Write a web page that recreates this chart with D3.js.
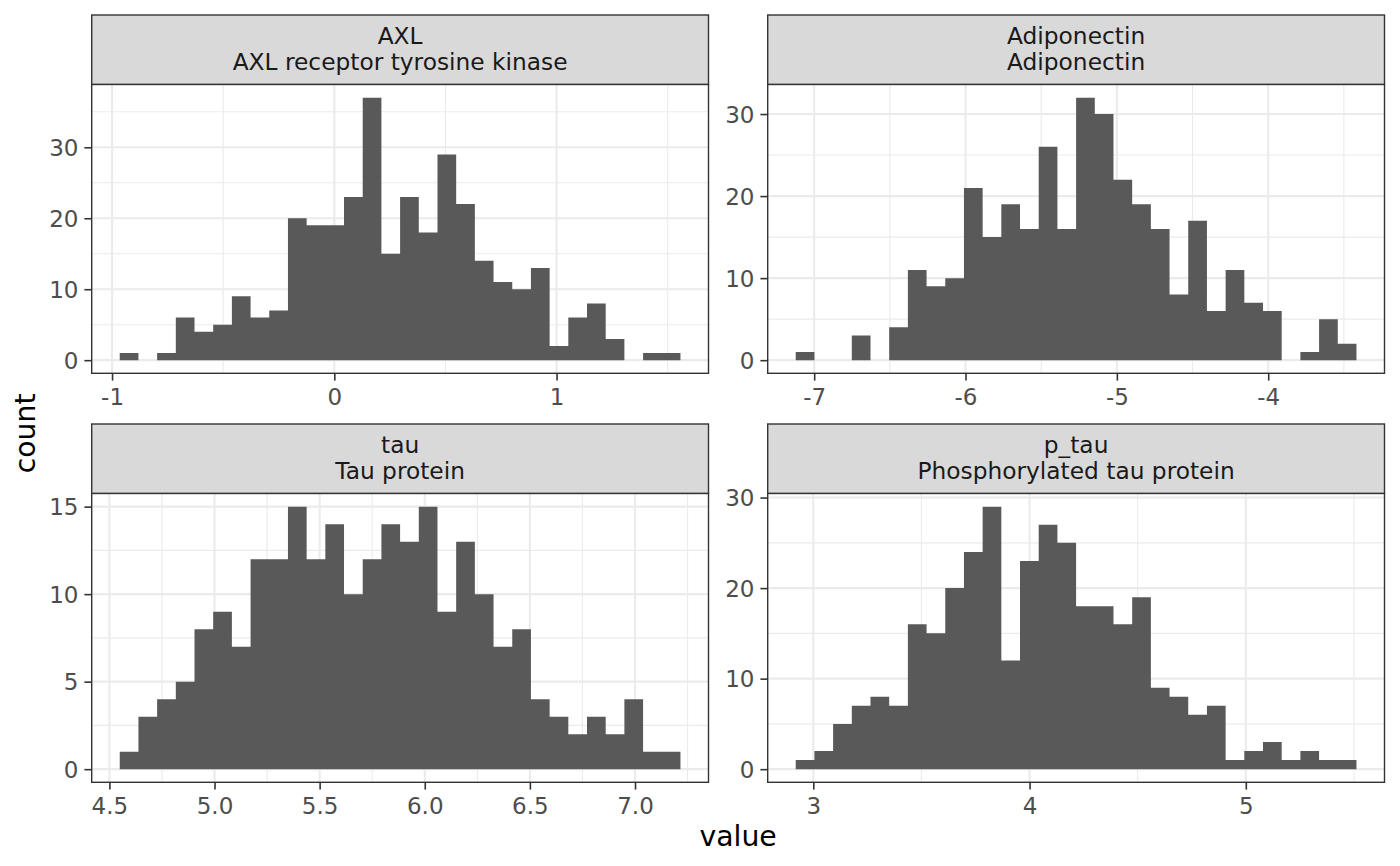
<!DOCTYPE html>
<html>
<head>
<meta charset="utf-8">
<script src="https://cdn.jsdelivr.net/npm/d3@7"></script>
<style>
  body { margin: 0; background: #fff; }
  svg text { font-family: "DejaVu Sans", sans-serif; }
</style>
</head>
<body>
<div id="chart"></div>
<script>
// facet names and strip subtitles
const panelIds = ["AXL", "Adiponectin", "tau", "p_tau"];
const panelLabels = ["AXL receptor tyrosine kinase", "Adiponectin", "Tau protein", "Phosphorylated tau protein"];

// histogram counts, 30 bins each
const axlCounts = [1, 0, 1, 6, 4, 5, 9, 6, 7, 20, 19, 19, 23, 37, 15, 23, 18, 29, 22, 14, 11, 10, 13, 2, 6, 8, 3, 0, 1, 1];
const adiponectinCounts = [1, 0, 0, 3, 0, 4, 11, 9, 10, 21, 15, 19, 16, 26, 16, 32, 30, 22, 19, 16, 8, 17, 6, 11, 7, 6, 0, 1, 5, 2];
const tauCounts = [1, 3, 4, 5, 8, 9, 7, 12, 12, 15, 12, 14, 10, 12, 14, 13, 15, 9, 13, 10, 7, 8, 4, 3, 2, 3, 2, 4, 1, 1];
const pTauCounts = [1, 2, 5, 7, 8, 7, 16, 15, 20, 24, 29, 12, 23, 27, 25, 18, 18, 16, 19, 9, 8, 6, 7, 1, 2, 3, 1, 2, 1, 1];

// left edge of first bin and bin width per panel
const binStart = [-0.9654, -7.1218, 4.5492, 2.9188];
const binWidth = [0.0841, 0.1235, 0.0889, 0.08643];

// axis breaks
const xTicks = [[-1, 0, 1], [-7, -6, -5, -4], [4.5, 5, 5.5, 6, 6.5, 7], [3, 4, 5]];
const xTickLabels = [["-1", "0", "1"], ["-7", "-6", "-5", "-4"], ["4.5", "5.0", "5.5", "6.0", "6.5", "7.0"], ["3", "4", "5"]];
const yTicks = [[0, 10, 20, 30], [0, 10, 20, 30], [0, 5, 10, 15], [0, 10, 20, 30]];

const allCounts = [axlCounts, adiponectinCounts, tauCounts, pTauCounts];

const width = 1400, height = 866;
const colX = [91.7, 767.7];
const panelW = 616.8;
const stripTop = [15, 424];
const stripH = 69.5;
const plotH = 288.8;
const tickLen = 7.3;

const svg = d3.select("#chart").append("svg")
    .attr("width", width)
    .attr("height", height)
    .attr("viewBox", `0 0 ${width} ${height}`);

svg.append("rect").attr("width", width).attr("height", height).attr("fill", "#fff");

function minorBreaks(ticks, domain) {
    const step = ticks[1] - ticks[0];
    const out = [];
    for (let v = ticks[0] - step / 2; v <= ticks[ticks.length - 1] + step; v += step) {
        if (v >= domain[0] && v <= domain[1]) out.push(v);
    }
    return out;
}

allCounts.forEach((counts, i) => {
    const col = i % 2, row = Math.floor(i / 2);
    const left = colX[col];
    const top = stripTop[row] + stripH;

    const lo = binStart[i], hi = binStart[i] + counts.length * binWidth[i];
    const pad = (hi - lo) * 0.05;
    const x = d3.scaleLinear().domain([lo - pad, hi + pad]).range([0, panelW]);
    const maxC = d3.max(counts);
    const y = d3.scaleLinear().domain([-0.05 * maxC, 1.05 * maxC]).range([plotH, 0]);

    // strip
    const strip = svg.append("g").attr("transform", `translate(${left},${stripTop[row]})`);
    strip.append("rect")
        .attr("width", panelW).attr("height", stripH)
        .attr("fill", "#D9D9D9").attr("stroke", "#333333").attr("stroke-width", 1.4);
    strip.append("text")
        .attr("x", panelW / 2).attr("y", 29.3)
        .attr("text-anchor", "middle").attr("font-size", 23.3).attr("fill", "#1A1A1A")
        .text(panelIds[i]);
    strip.append("text")
        .attr("x", panelW / 2).attr("y", 55)
        .attr("text-anchor", "middle").attr("font-size", 23.3).attr("fill", "#1A1A1A")
        .text(panelLabels[i]);

    const g = svg.append("g").attr("transform", `translate(${left},${top})`);
    g.append("rect").attr("width", panelW).attr("height", plotH).attr("fill", "#fff");

    // minor grid
    const xMinor = minorBreaks(xTicks[i], x.domain());
    const yMinor = minorBreaks(yTicks[i], y.domain());
    g.selectAll(".xminor").data(xMinor).join("line")
        .attr("x1", d => x(d)).attr("x2", d => x(d)).attr("y1", 0).attr("y2", plotH)
        .attr("stroke", "#EBEBEB").attr("stroke-width", 1.1);
    g.selectAll(".yminor").data(yMinor).join("line")
        .attr("y1", d => y(d)).attr("y2", d => y(d)).attr("x1", 0).attr("x2", panelW)
        .attr("stroke", "#EBEBEB").attr("stroke-width", 1.1);

    // major grid
    g.selectAll(".xmajor").data(xTicks[i]).join("line")
        .attr("x1", d => x(d)).attr("x2", d => x(d)).attr("y1", 0).attr("y2", plotH)
        .attr("stroke", "#EBEBEB").attr("stroke-width", 2.1);
    g.selectAll(".ymajor").data(yTicks[i]).join("line")
        .attr("y1", d => y(d)).attr("y2", d => y(d)).attr("x1", 0).attr("x2", panelW)
        .attr("stroke", "#EBEBEB").attr("stroke-width", 2.1);

    // bars: one path so adjacent bins show no seams
    const bins = counts.map((c, k) => ({ x0: lo + k * binWidth[i], x1: lo + (k + 1) * binWidth[i], c }));
    const p = d3.path();
    bins.filter(d => d.c > 0).forEach(d => {
        p.rect(x(d.x0), y(d.c), x(d.x1) - x(d.x0), y(0) - y(d.c));
    });
    g.append("path").attr("class", "bars").attr("d", p.toString()).attr("fill", "#595959");

    // panel border
    g.append("rect").attr("width", panelW).attr("height", plotH)
        .attr("fill", "none").attr("stroke", "#333333").attr("stroke-width", 1.4);

    // axes
    const xAxis = g.append("g").attr("transform", `translate(0,${plotH})`)
        .call(d3.axisBottom(x).tickValues(xTicks[i])
            .tickFormat((d, k) => xTickLabels[i][k])
            .tickSize(tickLen).tickPadding(8));
    const yAxis = g.append("g")
        .call(d3.axisLeft(y).tickValues(yTicks[i])
            .tickFormat(d => String(d))
            .tickSize(tickLen).tickPadding(5.9));
    [xAxis, yAxis].forEach(a => {
        a.select(".domain").remove();
        a.selectAll(".tick line").attr("stroke", "#333333").attr("stroke-width", 1.6);
        a.selectAll(".tick text").attr("fill", "#4D4D4D").attr("font-size", 23)
            .attr("font-family", "DejaVu Sans");
    });
    yAxis.selectAll(".tick text").attr("dy", "0.36em");
});

// axis titles
const panelsLeft = colX[0], panelsRight = colX[1] + panelW;
const panelsTop = stripTop[0] + stripH, panelsBottom = stripTop[1] + stripH + plotH;

svg.append("text")
    .attr("x", (panelsLeft + panelsRight) / 2).attr("y", 846)
    .attr("text-anchor", "middle").attr("font-size", 28.3).attr("fill", "#000")
    .text("value");

svg.append("text")
    .attr("transform", `translate(35,${(panelsTop + panelsBottom) / 2}) rotate(-90)`)
    .attr("text-anchor", "middle").attr("font-size", 28.3).attr("fill", "#000")
    .text("count");
</script>
</body>
</html>
